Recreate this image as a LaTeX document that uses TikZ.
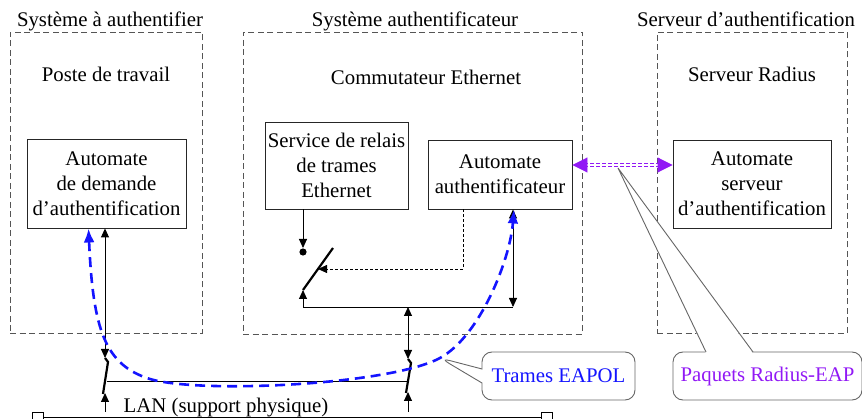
\documentclass[tikz,border=0pt]{standalone}
\usepackage{fontspec}
\setmainfont{Liberation Serif}
\usetikzlibrary{arrows.meta,shapes.callouts}
\definecolor{zonegray}{RGB}{85,85,85}
\definecolor{eapblue}{RGB}{20,20,255}
\definecolor{radpurple}{RGB}{145,25,245}
\begin{document}
\begin{tikzpicture}[x=1pt,y=-1pt,
	every node/.style={font=\fontsize{20.8}{25}\selectfont},
	zone/.style={draw=zonegray, dash pattern=on 6pt off 3.5pt, line width=0.9pt},
	unit/.style={draw=black!85, line width=0.9pt, align=center, inner sep=0pt},
	link/.style={line width=0.9pt, >={Triangle[length=9pt,width=8pt]}},
	lever/.style={line width=2.2pt},
	term/.style={draw, line width=0.9pt, minimum size=11pt, inner sep=0pt},
	bubble/.style={draw=black!60, line width=0.9pt, rounded corners=10pt, inner sep=0pt}]
	\useasboundingbox (0,0) rectangle (862,419);
	\node[zone, minimum width=192, minimum height=301] (sysA) at (106,182.5) {};
	\node[zone, minimum width=339, minimum height=302] (sysB) at (412.5,183) {};
	\node[zone, minimum width=190, minimum height=301] (sysC) at (752,182.5) {};
	\node[anchor=base] (sysAt) at (110,27) {Système à authentifier};
	\node[anchor=base] (sysBt) at (415,27) {Système authentificateur};
	\node[anchor=base] (sysCt) at (746,27) {Serveur d’authentification};
	\node[anchor=base] (poste) at (106,82) {Poste de travail};
	\node[anchor=base] (switch) at (426,85) {Commutateur Ethernet};
	\node[anchor=base] (radsrv) at (752,82) {Serveur Radius};
	\node[unit, minimum width=159, minimum height=89] (bA) at (106.5,183.5) {Automate\\de demande\\d’authentification};
	\node[unit, minimum width=143, minimum height=87] (bRelay) at (336.5,165.5) {Service de relais\\de trames\\Ethernet};
	\node[unit, minimum width=144, minimum height=69] (bAuth) at (500,174.5) {Automate\\authentificateur};
	\node[unit, minimum width=158, minimum height=88] (bSrv) at (752,184) {Automate\\serveur\\d’authentification};
	\node[term] (lanL) at (38,417.5) {};
	\node[term] (lanR) at (546.5,417.5) {};
	\node[anchor=base] (lan) at (226,412) {LAN (support physique)};
	\draw[line width=1.1pt] (lanL) -- (lanR);
	\coordinate (swAtop) at (105,358);
	\coordinate (swAbot) at (105,393);
	\coordinate (swBtop) at (408,359);
	\coordinate (swBbot) at (408,392);
	\coordinate (busL) at (303,307);
	\coordinate (busM) at (408,307);
	\coordinate (busR) at (513,307);
	\coordinate (contact) at (303,252);
	\coordinate (contactIn) at (303,248);
	\coordinate (pivot) at (303,290);
	\coordinate (leverEnd) at (333,248);
	\coordinate (ctrl) at (318,269);
	\draw[link,<->] (bA.south -| swAtop) -- (swAtop);
	\draw[lever] (swAtop) -- (108,362) -- (103,394);
	\draw[link,->] (swAbot |- lanL.north) -- (swAbot);
	\draw[link,<->] (busM) -- (swBtop);
	\draw[lever] (swBtop) -- (411,363) -- (406,393);
	\draw[link,->] (swBbot |- lanL.north) -- (swBbot);
	\draw[link] (107,381) -- (407,381);
	\draw[link,->] (bRelay.south -| contact) -- (contactIn);
	\fill (contact) circle[radius=3.6];
	\draw[lever] (pivot) -- (leverEnd);
	\draw[link,->] (busL) -- (pivot);
	\draw[link] (busL) -- (busR);
	\draw[link,<->] (bAuth.south -| busR) -- (busR);
	\draw[link,->,densely dashed,line width=0.8pt] (bAuth.south -| 463,0) -- (463,269) -- (ctrl);
	\coordinate (radA) at (bAuth.east |- 0,165);
	\coordinate (radB) at (bSrv.west |- 0,165);
	\draw[radpurple, double, double distance=2.2pt, line width=0.9pt, dash pattern=on 4pt off 2pt] ([xshift=12pt]radA) -- ([xshift=-12pt]radB);
	\draw[radpurple, line width=0.9pt, -{Triangle[length=15pt,width=15pt]}] ([xshift=14pt]radA) -- (radA);
	\draw[radpurple, line width=0.9pt, -{Triangle[length=15pt,width=15pt]}] ([xshift=-14pt]radB) -- (radB);
	\draw[eapblue, line width=2.6pt, dash pattern=on 10pt off 6pt, {Latex[length=14pt,width=11pt]}-{Latex[length=14pt,width=11pt]}] ([xshift=-18pt]bA.south) .. controls (93,330) and (105,365) .. (150,379) .. controls (200,394) and (390,385) .. (440,358) .. controls (480,336) and (510,260) .. ([xshift=14pt]bAuth.south);
	\coordinate (eapolTip) at (440,358);
	\coordinate (radiusTip) at (618,168);
	\node[bubble, rectangle callout, text=eapblue, minimum width=153, minimum height=48, callout absolute pointer={(eapolTip)}, callout pointer width=14pt] (eapol) at (558.5,376) {Trames EAPOL};
	\node[bubble, text=radpurple, minimum width=189, minimum height=48] (radius) at (767.5,376) {Paquets Radius-EAP};
	\fill[white] (706,353.5) -- (radiusTip) -- (753,353.5) -- cycle;
	\draw[black!60, line width=0.9pt] (706,352) -- (radiusTip) -- (753,352);
\end{tikzpicture}
\end{document}
